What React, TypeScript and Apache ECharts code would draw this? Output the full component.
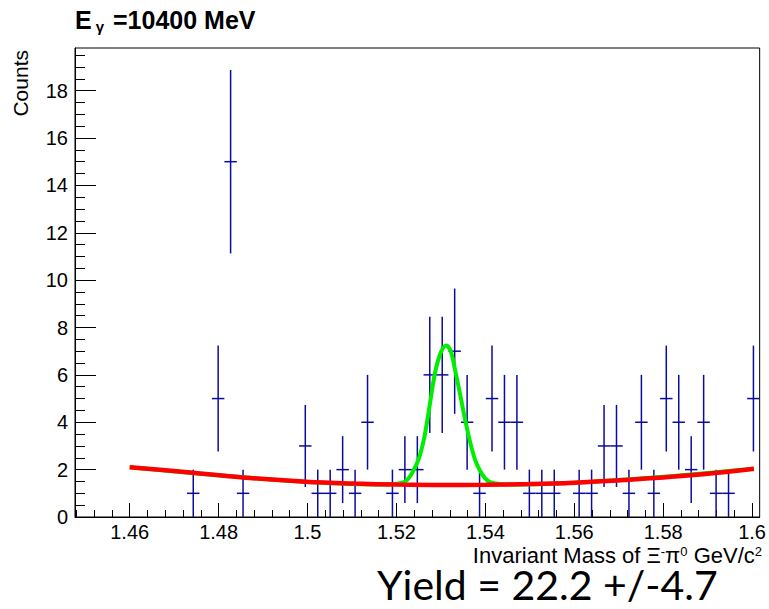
import React, { useEffect, useRef } from "react";
import * as echarts from "echarts";

// Histogram binning (55 bins)
const histMin = 1.4477;
const histMax = 1.6017;
const binWidth = 0.0028;
// Counts per bin
const counts = [
  0, 0, 0, 0, 0, 0, 0, 0, 0,
  1, 0, 5, 15, 1,
  0, 0, 0, 0,
  3, 1, 1, 2, 1, 4,
  0,
  1, 2, 2, 6, 6, 7, 4, 1, 5, 4, 4, 1, 1, 1,
  0,
  1, 1, 3, 3, 1, 4, 1, 5, 4, 2, 4, 1, 1,
  0,
  5,
];

// Background fit (red)
const bgFitX = [1.46, 1.4712, 1.4854, 1.4996, 1.5108, 1.52, 1.53, 1.54, 1.55, 1.56, 1.5713, 1.5862, 1.6004];
const bgFitY = [2.1, 1.92, 1.67, 1.49, 1.41, 1.37, 1.35, 1.36, 1.39, 1.45, 1.56, 1.76, 2.04];

// Total fit (green)
const totFitX = [1.46, 1.48, 1.5, 1.5178, 1.52, 1.522, 1.5235, 1.525, 1.5262, 1.5272, 1.5287, 1.53, 1.5312, 1.5322, 1.5332, 1.5344, 1.5354, 1.5366, 1.5377, 1.5388, 1.5399, 1.541, 1.5422, 1.5445, 1.56, 1.58, 1.6004];
const totFitY = [2.1, 1.76, 1.48, 1.37, 1.4, 1.5, 1.85, 2.45, 3.3, 4.38, 6.1, 6.95, 7.24, 7.0, 6.2, 5.1, 4.15, 3.15, 2.41, 1.95, 1.64, 1.48, 1.42, 1.37, 1.45, 1.7, 2.04];

// Axis ticks
const xMajorTicks = [1.46, 1.48, 1.5, 1.52, 1.54, 1.56, 1.58, 1.6];
const yMajorTicks = [0, 2, 4, 6, 8, 10, 12, 14, 16, 18];
const yMax = 19.8;

const xMinorTicks: number[] = [];
for (let m = 1.44; m < 1.6; m += 0.02) {
  for (let j = 1; j < 5; j++) {
    const v = Math.round((m + j * 0.004) * 10000) / 10000;
    if (v > histMin && v < histMax) xMinorTicks.push(v);
  }
}
const yMinorTicks: number[] = [];
for (let v = 0.5; v < yMax; v += 0.5) {
  if (Math.abs(v / 2 - Math.round(v / 2)) > 1e-6) yMinorTicks.push(v);
}

const FONT = "'Liberation Sans', Arial, Helvetica, sans-serif";
const BAR_COLOR = "#0c0c9a";

export default function App() {
  const ref = useRef<HTMLDivElement>(null);

  useEffect(() => {
    if (!ref.current) return;
    const chart = echarts.init(ref.current, undefined, { renderer: "svg" });

    const histData = counts
      .map((c, i) => [histMin + (i + 0.5) * binWidth, c, Math.sqrt(c)])
      .filter((d) => d[1] > 0);

    const option: any = {
      animation: false,
      backgroundColor: "#ffffff",
      grid: {
        left: 75,
        right: 6,
        top: 48,
        bottom: 92,
        show: true,
        borderColor: "#000",
        borderWidth: 1,
        backgroundColor: "transparent",
      },
      xAxis: [
        {
          type: "value",
          min: histMin,
          max: histMax,
          position: "bottom",
          axisLine: { show: true, onZero: false, lineStyle: { color: "#000", width: 1 } },
          axisTick: { show: true, inside: true, length: 14, customValues: xMajorTicks, lineStyle: { color: "#000", width: 1 } },
          axisLabel: {
            show: true,
            customValues: xMajorTicks,
            margin: 5,
            color: "#000",
            fontSize: 20,
            lineHeight: 20,
            fontFamily: FONT,
            formatter: (v: number) => String(+v.toFixed(4)),
          },
          splitLine: { show: false },
        },
        {
          type: "value",
          min: histMin,
          max: histMax,
          position: "bottom",
          axisLine: { show: false },
          axisTick: { show: true, inside: true, length: 7, customValues: xMinorTicks, lineStyle: { color: "#000", width: 1 } },
          axisLabel: { show: false },
          splitLine: { show: false },
        },
      ],
      yAxis: [
        {
          type: "value",
          min: 0,
          max: yMax,
          position: "left",
          axisLine: { show: true, onZero: false, lineStyle: { color: "#000", width: 1 } },
          axisTick: { show: true, inside: true, length: 21, customValues: yMajorTicks, lineStyle: { color: "#000", width: 1 } },
          axisLabel: {
            show: true,
            customValues: yMajorTicks,
            margin: 7,
            color: "#000",
            fontSize: 20,
            fontFamily: FONT,
          },
          splitLine: { show: false },
        },
        {
          type: "value",
          min: 0,
          max: yMax,
          position: "left",
          axisLine: { show: false },
          axisTick: { show: true, inside: true, length: 10, customValues: yMinorTicks, lineStyle: { color: "#000", width: 1 } },
          axisLabel: { show: false },
          splitLine: { show: false },
        },
      ],
      series: [
        {
          type: "custom",
          xAxisIndex: 0,
          yAxisIndex: 0,
          z: 2,
          encode: { x: 0, y: 1 },
          data: histData,
          renderItem: (params: any, api: any) => {
            const x = api.value(0);
            const y = api.value(1);
            const e = api.value(2);
            const c = api.coord([x, y]);
            const top = api.coord([x, y + e]);
            const bot = api.coord([x, y - e]);
            const l = api.coord([x - binWidth / 2, y]);
            const r = api.coord([x + binWidth / 2, y]);
            const st = { stroke: BAR_COLOR, lineWidth: 1.5 };
            return {
              type: "group",
              children: [
                { type: "line", shape: { x1: c[0], y1: top[1], x2: c[0], y2: bot[1] }, style: st },
                { type: "line", shape: { x1: l[0], y1: c[1], x2: r[0], y2: c[1] }, style: st },
              ],
            };
          },
        },
        {
          type: "line",
          z: 3,
          smooth: 0.35,
          symbol: "none",
          data: totFitX.map((x, i) => [x, totFitY[i]]),
          lineStyle: { color: "#00ee00", width: 4 },
        },
        {
          type: "line",
          z: 4,
          smooth: 0.35,
          symbol: "none",
          data: bgFitX.map((x, i) => [x, bgFitY[i]]),
          lineStyle: { color: "#ff0000", width: 4.5 },
        },
      ],
      graphic: [
        {
          type: "text",
          x: 75,
          y: 20,
          style: {
            text: "{e|E}{g|γ}{e|=10400 MeV}",
            textVerticalAlign: "middle",
            rich: {
              e: { fontSize: 25, fontWeight: "bold", fontFamily: FONT, fill: "#000", lineHeight: 28 },
              g: {
                fontSize: 15,
                fontWeight: "bold",
                fontFamily: FONT,
                fill: "#000",
                lineHeight: 15,
                padding: [13, 9, 0, 4],
              },
            },
          },
        },
        {
          type: "text",
          x: 20,
          y: 50,
          rotation: Math.PI / 2,
          style: {
            text: "Counts",
            fontSize: 21,
            fontFamily: FONT,
            fill: "#000",
            textAlign: "right",
            textVerticalAlign: "middle",
          },
        },
        {
          type: "text",
          right: 7,
          top: 544,
          style: {
            text: "{n|Invariant Mass of Ξ}{s|-}{n|π}{s|0}{n| GeV/c}{s|2}",
            fill: "#000",
            rich: {
              n: { fontSize: 22, fontFamily: FONT, fill: "#000", lineHeight: 20 },
              s: { fontSize: 13, fontFamily: FONT, fill: "#000", verticalAlign: "top", lineHeight: 13 },
            },
          },
        },
        {
          type: "text",
          x: 377,
          y: 584,
          style: {
            text: "Yield = 22.2 +/-4.7",
            fontSize: 41,
            lineHeight: 36,
            fontFamily: "Lato, 'Open Sans', sans-serif",
            fill: "#000",
            textVerticalAlign: "middle",
          },
        },
      ],
    };

    chart.setOption(option);
    return () => {
      chart.dispose();
    };
  }, []);

  return (
    <div
      ref={ref}
      style={{ position: "absolute", left: 0, top: 0, width: 769, height: 609, background: "#fff" }}
    />
  );
}
